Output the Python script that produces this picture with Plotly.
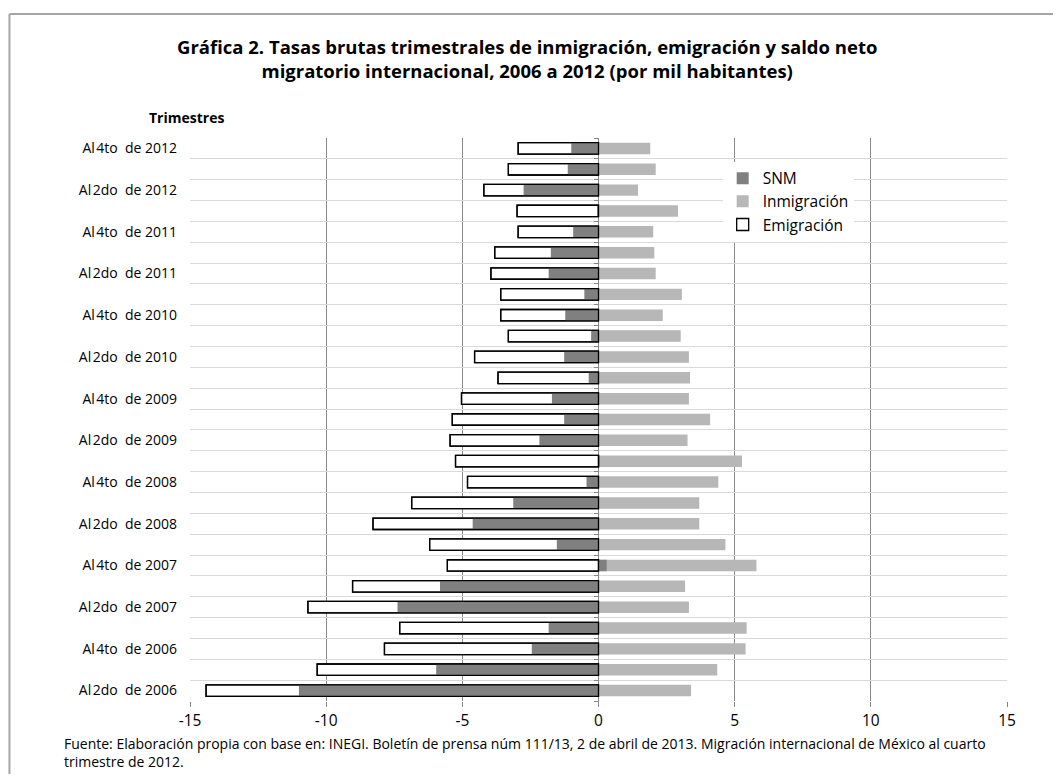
import plotly.graph_objects as go

# Trimestres, de abajo hacia arriba (2do trimestre 2006 a 4to trimestre 2012)
trimestres = [
    "Al2do de 2006", "Al3ro de 2006", "Al4to de 2006",
    "Al1ro de 2007", "Al2do de 2007", "Al3ro de 2007", "Al4to de 2007",
    "Al1ro de 2008", "Al2do de 2008", "Al3ro de 2008", "Al4to de 2008",
    "Al1ro de 2009", "Al2do de 2009", "Al3ro de 2009", "Al4to de 2009",
    "Al1ro de 2010", "Al2do de 2010", "Al3ro de 2010", "Al4to de 2010",
    "Al1ro de 2011", "Al2do de 2011", "Al3ro de 2011", "Al4to de 2011",
    "Al1ro de 2012", "Al2do de 2012", "Al3ro de 2012", "Al4to de 2012",
]

# Etiquetas visibles del eje (solo 2do y 4to trimestre)
etiquetas = [t.replace("Al", "Al\u200a").replace(" de", "\u00a0 de") if ("2do" in t or "4to" in t) else ""
             for t in trimestres]

emigracion = [
    -14.41, -10.33, -7.86,
    -7.30, -10.67, -9.03, -5.55,
    -6.20, -8.28, -6.86, -4.81,
    -5.25, -5.45, -5.37, -5.03,
    -3.69, -4.55, -3.31, -3.59,
    -3.59, -3.95, -3.81, -2.95,
    -2.99, -4.21, -3.31, -2.95,
]

inmigracion = [
    3.40, 4.36, 5.40,
    5.44, 3.32, 3.18, 5.80,
    4.66, 3.70, 3.70, 4.40,
    5.27, 3.27, 4.10, 3.32,
    3.36, 3.32, 3.02, 2.36,
    3.06, 2.10, 2.05, 2.01,
    2.92, 1.45, 2.10, 1.90,
]

snm = [
    -11.00, -5.96, -2.45,
    -1.83, -7.38, -5.82, 0.30,
    -1.53, -4.62, -3.13, -0.44,
    0.02, -2.17, -1.26, -1.71,
    -0.36, -1.26, -0.27, -1.22,
    -0.52, -1.83, -1.75, -0.93,
    -0.03, -2.75, -1.13, -1.00,
]

x_ticks = [-15, -10, -5, 0, 5, 10, 15]
x_labels = ['-15', '-10', '-5', '0', '5', '10', '15']

FONT = "Open Sans, Noto Sans, sans-serif"
W = 0.55

fig = go.Figure()

fig.add_trace(go.Bar(
    y=trimestres, x=emigracion, orientation='h', name='Emigración', width=W,
    marker=dict(color='white', line=dict(color='black', width=1.3)),
    legendrank=3
))
fig.add_trace(go.Bar(
    y=trimestres, x=inmigracion, orientation='h', name='Inmigración', width=W,
    marker=dict(color='#b7b7b7', line=dict(width=0)),
    legendrank=2
))
fig.add_trace(go.Bar(
    y=trimestres, x=snm, orientation='h', name='SNM', width=W,
    marker=dict(color='#808080', line=dict(width=0)),
    legendrank=1
))
# contorno de emigración por encima del SNM
fig.add_trace(go.Bar(
    y=trimestres, x=emigracion, orientation='h', width=W, showlegend=False,
    marker=dict(color='rgba(0,0,0,0)', line=dict(color='black', width=1.3)),
    yaxis='y2', hoverinfo='skip'
))

# la página tiene 8px de margen en el body: se descuentan del tamaño
fig.update_layout(
    barmode='overlay',
    width=1045, height=766,
    margin=dict(l=182, r=46, t=130, b=73),
    paper_bgcolor='white', plot_bgcolor='white',
    font=dict(family=FONT, color='black'),
    xaxis=dict(
        range=[-15, 15], tickmode='array', tickvals=x_ticks, ticktext=x_labels,
        showgrid=True, gridcolor='#8c8c8c', gridwidth=1,
        zeroline=True, zerolinecolor='#868686', zerolinewidth=1,
        ticks='outside', ticklen=5, tickcolor='#868686',
        tickfont=dict(size=15.5), showline=False
    ),
    yaxis=dict(
        type='category', categoryorder='array', categoryarray=trimestres,
        tickmode='array', tickvals=trimestres, ticktext=etiquetas,
        tickson='boundaries', showgrid=True, gridcolor='#d9d9d9', gridwidth=1,
        ticks='', tickfont=dict(size=14), ticklabelstandoff=12,
        range=[-0.5, len(trimestres) - 0.5]
    ),
    yaxis2=dict(
        type='category', categoryorder='array', categoryarray=trimestres,
        overlaying='y', matches='y', anchor='free', position=0.5, side='left',
        tickson='boundaries', ticks='outside', ticklen=5, tickcolor='#868686',
        showticklabels=False, showgrid=False, showline=False
    ),
    legend=dict(
        x=0.652, y=0.958, xanchor='left', yanchor='top',
        bgcolor='white', font=dict(size=15.5), traceorder='normal',
        itemwidth=30, tracegroupgap=0
    ),
    annotations=[
        dict(text='<b>Gráfica 2. Tasas brutas trimestrales de inmigración, emigración y saldo neto<br>'
                  'migratorio internacional, 2006 a 2012 (por mil habitantes)</b>',
             xref='paper', yref='paper', x=0.4125, y=1.142, xanchor='center', yanchor='middle',
             showarrow=False, font=dict(size=18.5), align='center'),
        dict(text='<b>Trimestres</b>', xref='paper', yref='paper', x=-0.0526, y=1.037,
             xanchor='left', yanchor='middle', showarrow=False, font=dict(size=14)),
        dict(text='Fuente: Elaboración propia con base en: INEGI. Boletín de prensa núm 111/13, 2 de abril de 2013. '
                  'Migración internacional de México al cuarto<br>trimestre de 2012.',
             xref='paper', yref='paper', x=-0.1567, y=-0.092, xanchor='left', yanchor='middle',
             showarrow=False, font=dict(size=14), align='left'),
    ],
    shapes=[
        dict(type='line', xref='paper', yref='paper', x0=-0.221, x1=1.07, y0=1.2202, y1=1.2202,
             line=dict(color='#a6a6a6', width=2)),
        dict(type='line', xref='paper', yref='paper', x0=-0.221, x1=-0.221, y0=1.2202, y1=-0.17,
             line=dict(color='#a6a6a6', width=2)),
    ]
)

fig.write_html("out.html")
